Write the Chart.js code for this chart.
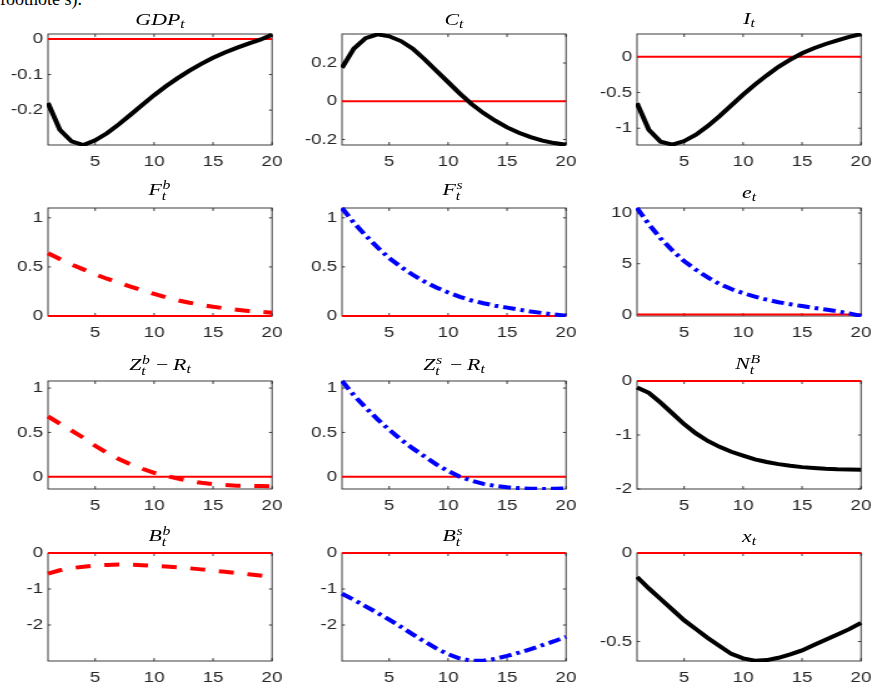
<!DOCTYPE html>
<html>
<head>
<meta charset="utf-8">
<script src="https://cdn.jsdelivr.net/npm/chart.js@4.4.1/dist/chart.umd.min.js"></script>
<style>
html, body { margin: 0; padding: 0; background: #fff; }
body { width: 871px; height: 686px; position: relative; overflow: hidden; }
.note { position: absolute; left: 0; top: -10px; font: 18px 'Liberation Serif', serif; line-height: 18px; color: #000; white-space: nowrap; }
.cv { position: absolute; transform-origin: 0 0; }
.ttl { position: absolute; font: italic 17.5px 'Liberation Serif', serif; line-height: 17.5px; color: #000; white-space: nowrap; }
.sb { font-size: 0.72em; position: relative; top: 0.2em; }
.st { display: inline-block; position: relative; width: 0.45em; height: 0; }
.st span { position: absolute; left: 0.05em; font-size: 0.72em; line-height: 1; }
.st .up { bottom: 4px; }
.st .dn { bottom: -7px; left: 0; }
.rm { font-style: normal; margin: 0 0.22em; }
</style>
</head>
<body>
<div class="note">footnote s).</div>
<script>
// periods on the horizontal axis
const periods = [1, 2, 3, 4, 5, 6, 7, 8, 9, 10, 11, 12, 13, 14, 15, 16, 17, 18, 19, 20];
const xTicks = [5, 10, 15, 20];

// impulse responses
const gdp = [-0.18, -0.255, -0.288, -0.298, -0.285, -0.265, -0.24, -0.213, -0.185, -0.158, -0.133, -0.11, -0.089, -0.07, -0.053, -0.038, -0.025, -0.013, -0.002, 0.012];
const cons = [0.175, 0.275, 0.33, 0.35, 0.34, 0.315, 0.275, 0.22, 0.16, 0.1, 0.04, -0.015, -0.062, -0.102, -0.137, -0.165, -0.188, -0.206, -0.219, -0.228];
const inv = [-0.65, -1.02, -1.19, -1.23, -1.18, -1.09, -0.97, -0.83, -0.68, -0.53, -0.39, -0.26, -0.14, -0.04, 0.05, 0.12, 0.18, 0.23, 0.28, 0.32];
const fb = [0.64, 0.58, 0.525, 0.475, 0.425, 0.38, 0.34, 0.3, 0.262, 0.225, 0.19, 0.16, 0.135, 0.113, 0.094, 0.078, 0.064, 0.052, 0.042, 0.034];
const fs = [1.1, 0.95, 0.82, 0.7, 0.59, 0.5, 0.42, 0.35, 0.29, 0.24, 0.195, 0.158, 0.13, 0.105, 0.085, 0.065, 0.046, 0.03, 0.015, 0.003];
const ex = [10.5, 8.9, 7.5, 6.3, 5.25, 4.4, 3.65, 3.0, 2.5, 2.1, 1.75, 1.45, 1.2, 1.0, 0.82, 0.65, 0.48, 0.3, 0.1, -0.15];
const zb = [0.68, 0.6, 0.52, 0.44, 0.35, 0.27, 0.2, 0.14, 0.09, 0.045, 0.01, -0.02, -0.048, -0.068, -0.083, -0.093, -0.1, -0.103, -0.105, -0.107];
const zs = [1.08, 0.92, 0.78, 0.65, 0.53, 0.42, 0.32, 0.23, 0.14, 0.065, 0.0, -0.045, -0.08, -0.103, -0.118, -0.128, -0.134, -0.137, -0.136, -0.13];
const nb = [-0.12, -0.22, -0.4, -0.6, -0.8, -0.97, -1.11, -1.22, -1.31, -1.38, -1.45, -1.5, -1.54, -1.57, -1.595, -1.61, -1.625, -1.635, -1.64, -1.645];
const bb = [-0.57, -0.48, -0.42, -0.38, -0.35, -0.33, -0.32, -0.325, -0.34, -0.355, -0.375, -0.4, -0.425, -0.455, -0.49, -0.52, -0.555, -0.59, -0.625, -0.66];
const bs = [-1.13, -1.3, -1.48, -1.66, -1.85, -2.05, -2.26, -2.46, -2.65, -2.81, -2.93, -2.99, -2.99, -2.94, -2.86, -2.77, -2.67, -2.56, -2.45, -2.33];
const xt = [-0.135, -0.2, -0.26, -0.32, -0.38, -0.43, -0.48, -0.525, -0.57, -0.595, -0.608, -0.605, -0.592, -0.573, -0.55, -0.52, -0.49, -0.46, -0.43, -0.395];

// y limits and y tick labels per panel
const yLimits = [[-0.298, 0.014], [-0.229, 0.352], [-1.235, 0.32],
                 [0, 1.1], [0, 1.1], [-0.16, 10.5],
                 [-0.138, 1.08], [-0.138, 1.08], [-2, 0],
                 [-3, 0], [-3, 0], [-0.61, 0]];
const yTicks = [[-0.2, -0.1, 0], [-0.2, 0, 0.2], [-1, -0.5, 0],
                [0, 0.5, 1], [0, 0.5, 1], [0, 5, 10],
                [0, 0.5, 1], [0, 0.5, 1], [-2, -1, 0],
                [-2, -1, 0], [-2, -1, 0], [-0.5, 0]];

const series = [gdp, cons, inv, fb, fs, ex, zb, zs, nb, bb, bs, xt];
const styles = ['solid', 'solid', 'solid', 'dash', 'dashdot', 'dashdot',
                'dash', 'dashdot', 'solid', 'dash', 'dashdot', 'solid'];

const titles = [
  'GDP<span class="sb">t</span>',
  'C<span class="sb">t</span>',
  'I<span class="sb">t</span>',
  'F<span class="st"><span class="up">b</span><span class="dn">t</span></span>',
  'F<span class="st"><span class="up">s</span><span class="dn">t</span></span>',
  'e<span class="sb">t</span>',
  'Z<span class="st"><span class="up">b</span><span class="dn">t</span></span><span class="rm">&minus;</span>R<span class="sb">t</span>',
  'Z<span class="st"><span class="up">s</span><span class="dn">t</span></span><span class="rm">&minus;</span>R<span class="sb">t</span>',
  'N<span class="st" style="width:0.6em"><span class="up">B</span><span class="dn">t</span></span>',
  'B<span class="st"><span class="up">b</span><span class="dn">t</span></span>',
  'B<span class="st"><span class="up">s</span><span class="dn">t</span></span>',
  'x<span class="sb">t</span>'
];

// page layout (plot boxes in page pixels)
const cols = [[48, 272], [342, 566], [637, 861]];
const rows = [[34, 145], [208, 316], [381, 489], [553, 661]];
const titleLift = [8, 8, 9, 12, 12, 9, 10, 10, 11, 11, 11, 10];

const STRETCH = 1.25;
const Y_AXIS_W = 36, X_AXIS_H = 26, PAD_T = 14, PAD_R = 16;
const INK = '#262626';
const TICK_FONT = { family: 'Liberation Sans', size: 15 };

const lineStyle = {
  solid: { borderColor: '#000000', borderWidth: 4, borderDash: [] },
  dash: { borderColor: '#ff0000', borderWidth: 4, borderDash: [12, 11] },
  dashdot: { borderColor: '#0000ff', borderWidth: 4, borderDash: [10, 4, 3, 4] }
};

const boxPlugin = {
  id: 'boxTicks',
  beforeDatasetsDraw(chart) {
    const { ctx, chartArea: a, scales } = chart;
    ctx.save();
    ctx.strokeStyle = INK;
    ctx.lineWidth = 0.9;
    ctx.strokeRect(a.left, a.top, a.right - a.left, a.bottom - a.top);
    ctx.beginPath();
    scales.x.ticks.forEach(t => {
      const px = scales.x.getPixelForValue(t.value);
      ctx.moveTo(px, a.bottom); ctx.lineTo(px, a.bottom - 3);
      ctx.moveTo(px, a.top); ctx.lineTo(px, a.top + 3);
    });
    scales.y.ticks.forEach(t => {
      const py = scales.y.getPixelForValue(t.value);
      ctx.moveTo(a.left, py); ctx.lineTo(a.left + 2.4, py);
      ctx.moveTo(a.right, py); ctx.lineTo(a.right - 2.4, py);
    });
    ctx.stroke();
    ctx.restore();
  }
};

series.forEach((vals, i) => {
  const [l, r] = cols[i % 3];
  const [t, b] = rows[Math.floor(i / 3)];
  const areaW = (r - l) / STRETCH;
  const W = Math.ceil(Y_AXIS_W + areaW + PAD_R);
  const H = PAD_T + (b - t) + X_AXIS_H;

  const cv = document.createElement('canvas');
  cv.className = 'cv';
  cv.width = W;
  cv.height = H;
  cv.style.left = (l - Y_AXIS_W * STRETCH) + 'px';
  cv.style.top = (t - PAD_T) + 'px';
  cv.style.transform = 'scaleX(' + STRETCH + ')';
  document.body.appendChild(cv);

  const ttl = document.createElement('div');
  ttl.className = 'ttl';
  ttl.innerHTML = titles[i];
  ttl.style.left = ((l + r) / 2) + 'px';
  ttl.style.top = (t - titleLift[i] - 14.7) + 'px';
  ttl.style.transform = 'translateX(-50%) scaleX(' + STRETCH + ')';
  document.body.appendChild(ttl);

  const st = lineStyle[styles[i]];
  const [ymin, ymax] = yLimits[i];

  new Chart(cv.getContext('2d'), {
    type: 'line',
    data: {
      datasets: [
        {
          data: periods.map((p, k) => ({ x: p, y: vals[k] })),
          borderColor: st.borderColor,
          borderWidth: st.borderWidth,
          borderDash: st.borderDash,
          pointRadius: 0,
          tension: 0,
          clip: 1
        },
        {
          data: [{ x: periods[0], y: 0 }, { x: periods[periods.length - 1], y: 0 }],
          borderColor: '#ff0000',
          borderWidth: 2,
          pointRadius: 0,
          clip: 1
        }
      ]
    },
    options: {
      responsive: false,
      animation: false,
      events: [],
      layout: { padding: { left: 0, top: PAD_T, right: W - Y_AXIS_W - areaW, bottom: 0 } },
      plugins: { legend: { display: false }, tooltip: { enabled: false }, title: { display: false } },
      scales: {
        x: {
          type: 'linear',
          min: periods[0],
          max: periods[periods.length - 1],
          grid: { display: false, drawTicks: false },
          border: { display: false },
          afterBuildTicks: s => { s.ticks = xTicks.map(v => ({ value: v })); },
          afterFit: s => { s.height = X_AXIS_H; },
          ticks: {
            autoSkip: false, maxRotation: 0, padding: 8, color: INK,
            font: TICK_FONT,
            callback: v => String(v)
          }
        },
        y: {
          min: ymin,
          max: ymax,
          grid: { display: false, drawTicks: false },
          border: { display: false },
          afterBuildTicks: s => { s.ticks = yTicks[i].map(v => ({ value: v })); },
          afterFit: s => { s.width = Y_AXIS_W; },
          ticks: {
            autoSkip: false, padding: 4, color: INK,
            font: TICK_FONT,
            callback: v => String(v)
          }
        }
      }
    },
    plugins: [boxPlugin]
  });
});
</script>
</body>
</html>
